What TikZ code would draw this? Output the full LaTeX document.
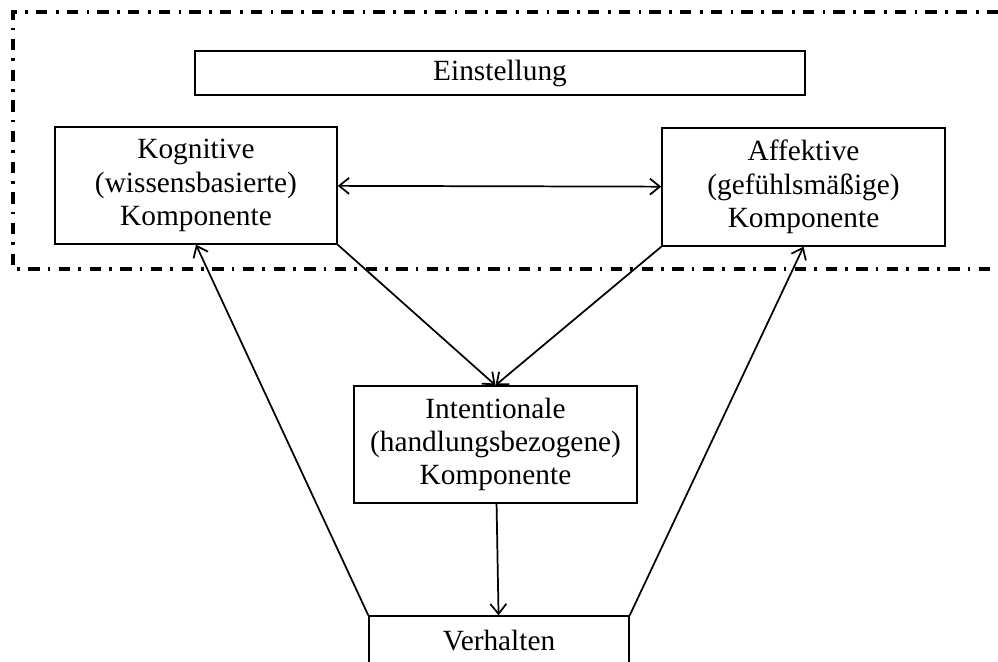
\documentclass[tikz,border=0pt]{standalone}
\usepackage{fontspec}
\setmainfont{Liberation Serif}
\usetikzlibrary{arrows.meta}
\begin{document}
\begin{tikzpicture}[x=0.75pt, y=-0.75pt,
  >={Straight Barb[length=7.5pt,width=12pt]},
  box/.style={draw, line width=1.1pt, align=center, inner sep=0pt,
    font=\fontsize{22}{25}\selectfont},
  pfeil/.style={->, line width=1.3pt},
  rahmen/.style={line width=2.3pt, dash pattern=on 8.5pt off 6pt on 2pt off 6.5pt}]
  \useasboundingbox (0, 0) rectangle (998, 661);

  \draw [rahmen] (998, 12) -- (13, 12) -- (13, 269) -- (998, 269);

  \node [box, minimum width=457.5pt, minimum height=33pt] (e) at (500, 73) {Einstellung};
  \node [box, minimum width=211.5pt, minimum height=87.75pt] (k) at (196, 185.5) {Kognitive\\(wissensbasierte)\\Komponente};
  \node [box, minimum width=212.25pt, minimum height=88.5pt] (a) at (803.5, 187) {Affektive\\(gefühlsmäßige)\\Komponente};
  \node [box, minimum width=212.25pt, minimum height=87.75pt] (i) at (495.5, 444.5) {Intentionale\\(handlungsbezogene)\\Komponente};
  \node [box, minimum width=195pt, minimum height=37.5pt] (v) at (499, 641) {Verhalten};

  \draw [pfeil, <->] (k) to (a);
  \draw [pfeil] (k.south east) to (i.north);
  \draw [pfeil] (a.south west) to (i.north);
  \draw [pfeil] (i) to (v);
  \draw [pfeil] (v.north west) to (k.south);
  \draw [pfeil] (v.north east) to (a.south);
\end{tikzpicture}
\end{document}
